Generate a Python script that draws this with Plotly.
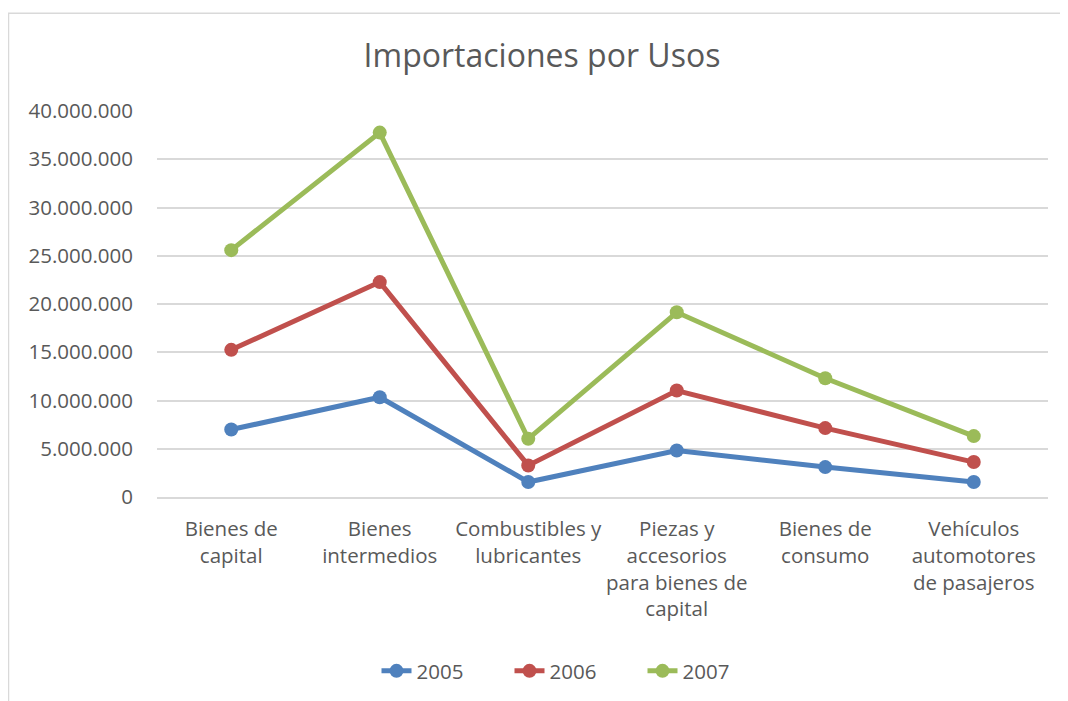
import plotly.graph_objects as go

# ── Data ────────────────────────────────────────────────────────────────
categorias = [
    "Bienes de<br>capital",
    "Bienes<br>intermedios",
    "Combustibles y<br>lubricantes",
    "Piezas y<br>accesorios<br>para bienes de<br>capital",
    "Bienes de<br>consumo",
    "Vehículos<br>automotores<br>de pasajeros",
]
anios = ["2005", "2006", "2007"]
v2005 = [6990000, 10340000, 1550000, 4820000, 3100000, 1560000]
v2006 = [15250000, 22270000, 3270000, 11030000, 7140000, 3620000]
v2007 = [25580000, 37760000, 6030000, 19140000, 12310000, 6310000]
y_ticks = [0, 5000000, 10000000, 15000000, 20000000, 25000000, 30000000, 35000000, 40000000]

# ── Style ───────────────────────────────────────────────────────────────
COLORS = ['#4F81BD', '#C0504D', '#9BBB59']
TEXT = '#595959'
GRID = '#D9D9D9'
FONT = "Open Sans, sans-serif"

# page body has an 8px margin, so the figure is sized/offset accordingly
W, H = 1060, 693
M = dict(l=149, r=20, t=103, b=203)
pw = W - M['l'] - M['r']
ph = H - M['t'] - M['b']

fig = go.Figure()
for name, vals, col in zip(anios, [v2005, v2006, v2007], COLORS):
    fig.add_trace(go.Scatter(
        x=categorias, y=vals, name=name,
        mode='lines+markers',
        line=dict(color=col, width=5),
        marker=dict(color=col, size=14),
    ))

tick_text = [f"{v:,}".replace(",", ".") for v in y_ticks]

# outer chart border
fig.add_shape(
    type='rect', xref='paper', yref='paper',
    x0=(0.5 - M['l']) / pw, x1=(W + 20 - M['l']) / pw,
    y0=-(M['b'] + 20) / ph, y1=(H - 5 - M['b']) / ph,
    line=dict(color='#D9D9D9', width=1.5),
    fillcolor='rgba(0,0,0,0)', layer='below',
)

fig.update_layout(
    width=W, height=H,
    margin=M,
    paper_bgcolor='white', plot_bgcolor='white',
    font=dict(family=FONT, color=TEXT, size=20.5),
    title=dict(text="Importaciones por Usos", x=534 / W, xref='container', xanchor='center',
               y=1 - 48 / H, yref='container', yanchor='middle',
               font=dict(size=32, color=TEXT, family=FONT)),
    xaxis=dict(
        range=[-0.5, len(categorias) - 0.5],
        showgrid=False, zeroline=False,
        showline=True, linecolor=GRID, linewidth=1.5,
        ticks='', tickfont=dict(size=20.5, color=TEXT),
        ticklabelstandoff=13,
        automargin=False,
    ),
    yaxis=dict(
        range=[0, 40000000],
        tickvals=y_ticks, ticktext=tick_text,
        showgrid=True, gridcolor=GRID, gridwidth=1.5,
        zeroline=False, showline=False,
        ticks='', tickfont=dict(size=20.5, color=TEXT),
        ticklabelstandoff=23,
        automargin=False,
    ),
    legend=dict(
        orientation='h', xanchor='center', x=(568 - M['l']) / pw,
        yanchor='middle', y=-(663 - (H - M['b'])) / ph,
        font=dict(size=20.5, color=TEXT),
        entrywidth=88, entrywidthmode='pixels',
    ),
    showlegend=True,
)

fig.write_html("out.html")
